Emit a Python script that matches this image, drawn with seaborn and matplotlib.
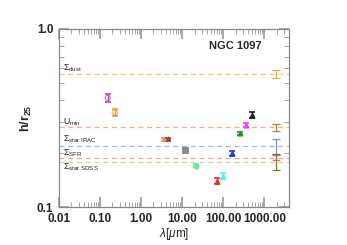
import numpy as np
import matplotlib
matplotlib.use('Agg')
import matplotlib.pyplot as plt
import seaborn as sns
from matplotlib.ticker import FixedLocator, FuncFormatter, LogLocator, NullFormatter

sns.set_style('ticks')
plt.rcParams['font.family'] = ['Liberation Sans', 'DejaVu Sans']
plt.rcParams['mathtext.fontset'] = 'custom'
plt.rcParams['mathtext.rm'] = 'Liberation Sans'
plt.rcParams['mathtext.it'] = 'Liberation Sans:italic'
plt.rcParams['mathtext.bf'] = 'Liberation Sans:bold'

# band scale lengths
wave = [0.153, 0.227, 3.6, 4.5, 12, 22, 70, 100, 160, 250, 350, 500]
h_r25 = [0.41, 0.34, 0.24, 0.24, 0.21, 0.171, 0.140, 0.150, 0.200, 0.259, 0.290, 0.329]
h_err = [0.02, 0.014, 0.005, 0.005, 0.004, 0.004, 0.005, 0.006, 0.006, 0.006, 0.007, 0.013]
colors = ['#c04898', '#e89a40', '#e88a80', '#a83838', '#8a8a8a', '#70e890',
          '#e03030', '#50f0f0', '#2038e8', '#2f8a2f', '#f040f0', '#202020']
markers = ['o', 'o', '*', '*', 's', 'o', '^', '^', '^', '^', '^', '^']

# map-based scale lengths (dashed lines + error bars on the right)
map_names = [r'$\Sigma_{\rm dust}$', r'U$_{\rm min}$', r'$\Sigma_{\rm star\ IRAC}$',
             r'$\Sigma_{\rm SFR}$', r'$\Sigma_{\rm star\ SDSS}$']
map_h = [0.557, 0.280, 0.219, 0.189, 0.179]
map_lo = [0.528, 0.268, 0.197, 0.184, 0.161]
map_hi = [0.588, 0.291, 0.242, 0.195, 0.198]
line_colors = ['#f5c878', '#e8b090', '#a0b8ec', '#eca8a8', '#d4d4a0']
bar_colors = ['#f0a840', '#d07838', '#6a98e8', '#e07878', '#7a7a20']
label_y = [0.604, 0.300, 0.239, 0.201, 0.167]
map_x = 1950

fig, ax = plt.subplots(figsize=(3.47, 2.45), dpi=100)
fig.subplots_adjust(left=0.170, right=0.833, bottom=0.155, top=0.882)

for name, h, lc, ly in zip(map_names, map_h, line_colors, label_y):
    ax.axhline(h, color=lc, ls=(0, (4, 3)), lw=0.9, zorder=1)
    ax.text(0.0128, ly, name, fontsize=6.3, va='center', ha='left', color='#222222')

for h, lo, hi, bc in zip(map_h, map_lo, map_hi, bar_colors):
    ax.errorbar(map_x, h, yerr=[[h - lo], [hi - h]], color=bc, lw=0.9,
                capsize=3, capthick=0.9, zorder=3)

for x, y, e, c, m in zip(wave, h_r25, h_err, colors, markers):
    ax.errorbar(x, y, yerr=e, color=c, lw=1.0, capsize=2.5, capthick=1.2, zorder=4)
    face = 'none' if m == 'o' and x < 1 else c
    sns.scatterplot(x=[x], y=[y], ax=ax, color=c, marker=m, s=14,
                    edgecolor=c, facecolor=face, linewidth=0.6, zorder=5, legend=False)

ax.set_xscale('log')
ax.set_yscale('log')
ax.set_xlim(0.01, 4000)
ax.set_ylim(0.1, 1.0)

ax.xaxis.set_major_locator(FixedLocator([0.01, 0.1, 1, 10, 100, 1000]))
ax.xaxis.set_major_formatter(FuncFormatter(lambda v, p: '%.2f' % v))
ax.xaxis.set_minor_locator(LogLocator(base=10, subs=np.arange(2, 10)))
ax.xaxis.set_minor_formatter(NullFormatter())
ax.yaxis.set_major_locator(FixedLocator([0.1, 1.0]))
ax.yaxis.set_major_formatter(FuncFormatter(lambda v, p: '%.1f' % v))
ax.yaxis.set_minor_locator(LogLocator(base=10, subs=np.arange(2, 10)))
ax.yaxis.set_minor_formatter(NullFormatter())

ax.tick_params(which='both', direction='in', top=True, right=True, color='#999999')
ax.tick_params(which='major', length=7, width=1.2, labelsize=8.5, pad=4)
ax.tick_params(which='minor', length=3.5, width=0.6)
for lab in ax.get_xticklabels() + ax.get_yticklabels():
    lab.set_fontweight('bold')
for s in ax.spines.values():
    s.set_color('#888888')
    s.set_linewidth(0.9)

ax.set_xlabel(r'$\lambda$[$\mu$m]', fontsize=8.5, labelpad=1)
ax.set_ylabel(r'h/r$_{\mathbf{25}}$', fontsize=9, fontweight='bold', labelpad=2)
ax.text(0.65, 0.93, 'NGC 1097', transform=ax.transAxes, fontsize=8,
        fontweight='bold', ha='left', va='top')

fig.savefig('out.png', dpi=100, facecolor='white')
